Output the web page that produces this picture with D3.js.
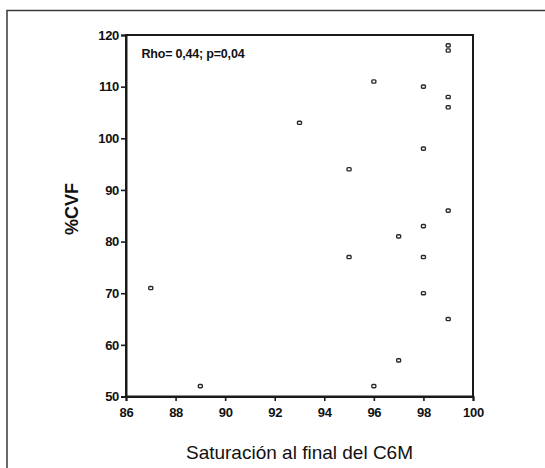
<!DOCTYPE html>
<html><head><meta charset="utf-8">
<script src="https://cdn.jsdelivr.net/npm/d3@7"></script>
<style>
html,body{margin:0;padding:0;background:#fff;}
svg{display:block;font-family:"Liberation Sans",Arial,Helvetica,sans-serif;}
</style></head>
<body>
<svg id="chart" width="545" height="468"></svg>
<script>
const saturacion = [99, 99, 96, 98, 99, 99, 93, 98, 95, 99, 98, 97, 95, 98, 98, 99, 97, 96, 87, 89];
const cvf        = [118, 117, 111, 110, 108, 106, 103, 98, 94, 86, 83, 81, 77, 77, 70, 65, 57, 52, 71, 52];
const xTicks = [86, 88, 90, 92, 94, 96, 98, 100];
const yTicks = [50, 60, 70, 80, 90, 100, 110, 120];
const xTitle = "Saturación al final del C6M";
const yTitle = "%CVF";
const annotation = "Rho= 0,44; p=0,04";

const svg = d3.select("#chart");
const L = 126, R = 473, T = 35, B = 396.5;
const x = d3.scaleLinear().domain([86, 100]).range([L, R]);
const y = d3.scaleLinear().domain([50, 120]).range([B, T]);

// outer frame (extends past the right/bottom edges)
svg.append("rect").attr("x", 7).attr("y", 10.5).attr("width", 560).attr("height", 480)
  .attr("fill", "none").attr("stroke", "#3a3a3a").attr("stroke-width", 1.5);

// plot box
svg.append("rect").attr("x", L).attr("y", T).attr("width", R - L).attr("height", B - T)
  .attr("fill", "none").attr("stroke", "#1a1a1a").attr("stroke-width", 2);

const xAxis = svg.append("g").attr("transform", `translate(0,${B})`)
  .call(d3.axisBottom(x).tickValues(xTicks).tickSize(4.5).tickPadding(6.5).tickFormat(d3.format("d")));
const yAxis = svg.append("g").attr("transform", `translate(${L},0)`)
  .call(d3.axisLeft(y).tickValues(yTicks).tickSize(5).tickPadding(2).tickFormat(d3.format("d")));
[xAxis, yAxis].forEach(g => {
  g.select(".domain").attr("stroke", "#1a1a1a").attr("stroke-width", 2);
  g.selectAll(".tick line").attr("stroke", "#1a1a1a").attr("stroke-width", 1.6);
  g.selectAll(".tick text").attr("fill", "#111").attr("font-size", 13).attr("font-weight", "bold")
    .attr("font-family", "'Liberation Sans',Arial,sans-serif").attr("letter-spacing", "-0.3px");
});

// points
svg.append("g").selectAll("rect").data(saturacion.map((s, i) => [s, cvf[i]])).join("rect")
  .attr("x", d => x(d[0]) - 2).attr("y", d => y(d[1]) - 1.6)
  .attr("width", 4).attr("height", 3.2).attr("rx", 0.9)
  .attr("fill", "#fff").attr("stroke", "#2a2a2a").attr("stroke-width", 1.4);

// annotation
svg.append("text").attr("x", 141.5).attr("y", 58.3).attr("font-size", 12.5).attr("font-weight", "bold")
  .attr("fill", "#111").attr("letter-spacing", "-0.2px").text(annotation);

// titles
svg.append("text").attr("x", (L + R) / 2).attr("y", 459).attr("text-anchor", "middle")
  .attr("font-size", 19).attr("fill", "#111").text(xTitle);
svg.append("text").attr("transform", "translate(78,209) rotate(-90)").attr("text-anchor", "middle")
  .attr("font-size", 18).attr("font-weight", "bold").attr("fill", "#111").text(yTitle);
</script>
</body></html>
